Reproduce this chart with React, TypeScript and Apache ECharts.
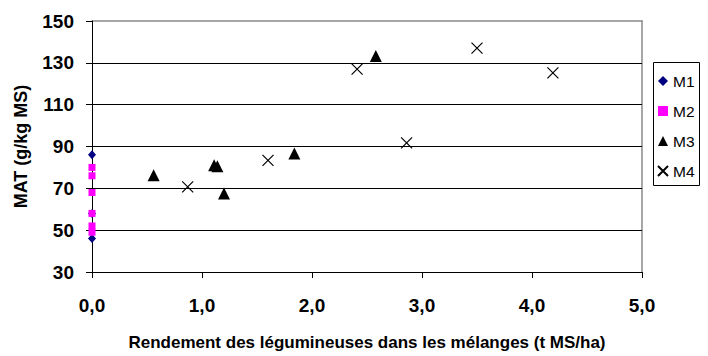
import React, { useEffect, useRef } from "react";
import * as echarts from "echarts";

const seriesNames = ["M1", "M2", "M3", "M4"];
const m1: number[][] = [[0, 86], [0, 58], [0, 46]];
const m2: number[][] = [[0, 80], [0, 76], [0, 68], [0, 58], [0, 52], [0, 49]];
const m3: number[][] = [[0.56, 76.3], [1.11, 81], [1.14, 80.5], [1.2, 67.5], [1.84, 86.6], [2.58, 133.3]];
const m4: number[][] = [[0.87, 70.7], [1.6, 83.4], [2.41, 127], [2.86, 91.7], [3.5, 137], [4.19, 125.2]];
const yTicks = [30, 50, 70, 90, 110, 130, 150];
const xTicks = [0, 1, 2, 3, 4, 5];
const xTitle = "Rendement des légumineuses dans les mélanges (t MS/ha)";
const yTitle = "MAT (g/kg MS)";

const FONT = "'Liberation Sans', Arial, sans-serif";
const CROSS = "path://M0,0L10,10M10,0L0,10";
const FRAME = "#8a8a8a";

export default function App() {
  const ref = useRef<HTMLDivElement>(null);
  useEffect(() => {
    if (!ref.current) return;
    const chart = echarts.init(ref.current, null, { renderer: "svg" });
    const xMin = xTicks[0];
    const xMax = xTicks[xTicks.length - 1];
    const yMin = yTicks[0];
    const yMax = yTicks[yTicks.length - 1];
    const option: any = {
      animation: false,
      backgroundColor: "#ffffff",
      textStyle: { fontFamily: FONT },
      grid: { left: 92, right: 66, top: 21, bottom: 84, show: false },
      xAxis: [
        {
          type: "value",
          position: "bottom",
          z: 3,
          min: xMin,
          max: xMax,
          interval: xTicks[1] - xTicks[0],
          name: xTitle,
          nameLocation: "middle",
          nameGap: 62,
          nameTextStyle: { fontFamily: FONT, fontWeight: "bold", fontSize: 17, color: "#000" },
          axisLine: { show: true, onZero: false, lineStyle: { color: "#000", width: 1 } },
          axisTick: { show: true, inside: false, length: 6, lineStyle: { color: "#000" } },
          axisLabel: {
            margin: 24,
            fontFamily: FONT,
            fontWeight: "bold",
            fontSize: 19,
            color: "#000",
            formatter: (v: number) => v.toFixed(1).replace(".", ","),
          },
          splitLine: { show: false },
        },
        {
          type: "value",
          position: "top",
          z: 1,
          min: xMin,
          max: xMax,
          axisLine: { show: true, onZero: false, lineStyle: { color: FRAME, width: 1.5 } },
          axisTick: { show: false },
          axisLabel: { show: false },
          splitLine: { show: false },
        },
      ],
      yAxis: [
        {
          type: "value",
          position: "left",
          z: 3,
          min: yMin,
          max: yMax,
          interval: yTicks[1] - yTicks[0],
          name: yTitle,
          nameLocation: "middle",
          nameGap: 62,
          nameRotate: 90,
          nameTextStyle: { fontFamily: FONT, fontWeight: "bold", fontSize: 18, color: "#000" },
          axisLine: { show: true, onZero: false, lineStyle: { color: "#000", width: 1 } },
          axisTick: { show: true, inside: false, length: 6, lineStyle: { color: "#000" } },
          axisLabel: { margin: 18, fontFamily: FONT, fontWeight: "bold", fontSize: 19, color: "#000" },
          splitLine: { show: true, showMinLine: false, showMaxLine: false, lineStyle: { color: "#000", width: 1 } },
        },
        {
          type: "value",
          position: "right",
          z: 1,
          min: yMin,
          max: yMax,
          axisLine: { show: true, onZero: false, lineStyle: { color: FRAME, width: 1.5 } },
          axisTick: { show: false },
          axisLabel: { show: false },
          splitLine: { show: false },
        },
      ],
      legend: {
        orient: "vertical",
        left: 657,
        top: 72,
        padding: 0,
        itemGap: 12,
        itemWidth: 10,
        itemHeight: 10,
        itemTextGap: 4,
        textStyle: { fontFamily: FONT, fontSize: 15.5, color: "#000", lineHeight: 18 },
        data: seriesNames,
      },
      graphic: [
        {
          type: "rect",
          shape: { x: 653.5, y: 62.5, width: 46, height: 123 },
          style: { fill: "none", stroke: "#000", lineWidth: 1 },
          silent: true,
        },
      ],
      series: [
        {
          name: seriesNames[0],
          type: "scatter",
          data: m1,
          symbol: "diamond",
          symbolSize: [8, 9],
          itemStyle: { color: "#000080", opacity: 1 },
          z: 4,
        },
        {
          name: seriesNames[1],
          type: "scatter",
          data: m2,
          symbol: "rect",
          symbolSize: 7,
          itemStyle: { color: "#ff00ff", opacity: 1 },
          z: 5,
        },
        {
          name: seriesNames[2],
          type: "scatter",
          data: m3,
          symbol: "triangle",
          symbolSize: [12, 12],
          itemStyle: { color: "#000000", opacity: 1 },
          z: 6,
        },
        {
          name: seriesNames[3],
          type: "scatter",
          data: m4,
          symbol: CROSS,
          symbolSize: 11,
          itemStyle: { color: "rgba(0,0,0,0)", borderColor: "#000", borderWidth: 1.2, opacity: 1 },
          z: 7,
        },
      ],
    };
    chart.setOption(option);
    return () => chart.dispose();
  }, []);
  return (
    <div
      ref={ref}
      style={{ position: "fixed", left: 0, top: 0, width: 708, height: 356, background: "#fff" }}
    />
  );
}
